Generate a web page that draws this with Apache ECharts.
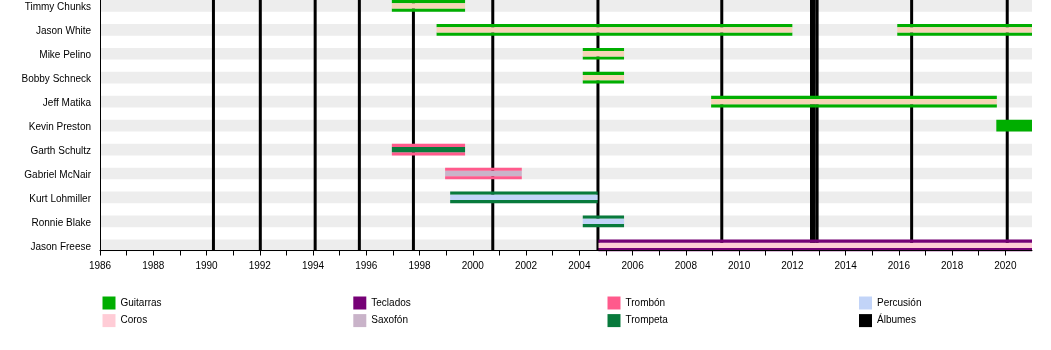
<!DOCTYPE html>
<html><head><meta charset="utf-8">
<script src="https://cdn.jsdelivr.net/npm/echarts@6/dist/echarts.min.js"></script>
<style>html,body{margin:0;padding:0;background:#fff}#c{width:1051px;height:350px}</style>
</head><body><div id="c"></div>
<script>
// ---- data ----
const members = ['Timmy Chunks','Jason White','Mike Pelino','Bobby Schneck','Jeff Matika','Kevin Preston','Garth Schultz','Gabriel McNair','Kurt Lohmiller','Ronnie Blake','Jason Freese'];
const spanMember = [0, 1, 1, 2, 3, 4, 5, 6, 7, 8, 9, 10];
const spanStart  = [1996.96, 1998.64, 2015.94, 2004.13, 2004.13, 2008.95, 2019.66, 1996.96, 1998.96, 1999.15, 2004.13, 2004.72];
const spanEnd    = [1999.71, 2012.00, 2021.00, 2005.68, 2005.68, 2019.68, 2021.00, 1999.71, 2001.84, 2004.69, 2005.68, 2021.00];
const spanMain   = ['Guitarras','Guitarras','Guitarras','Guitarras','Guitarras','Guitarras','Guitarras','Trombón','Trombón','Trompeta','Trompeta','Teclados'];
const spanExtra  = ['Coros','Coros','Coros','Coros','Coros','Coros',null,'Trompeta','Saxofón','Percusión','Percusión','Coros'];
const albumDates = [1990.26, 1992.02, 1994.08, 1995.74, 1997.77, 2000.75, 2004.70, 2009.35, 2012.72, 2012.82, 2012.93, 2016.48, 2020.07];
const instruments = ['Guitarras','Coros','Teclados','Saxofón','Trombón','Trompeta','Percusión'];
const yearLabels = [1986,1988,1990,1992,1994,1996,1998,2000,2002,2004,2006,2008,2010,2012,2014,2016,2018,2020];
const X_MIN = 1986, X_MAX = 2021;

// ---- styles ----
const FONT = '"Liberation Sans", Arial, sans-serif';
const colors = {
  'Guitarras':'#00AE00','Coros':'#FFCCD6','Teclados':'#760076','Saxofón':'#C9B3C9',
  'Trombón':'#FF5A8C','Trompeta':'#087A3C','Percusión':'#C2D4F8','Álbumes':'#000000'
};
const midOverGuitar = '#F6D4B6';
const BAR_H = 11.7, EDGE = 3.2, ROW_PX = 23.95;

const chart = echarts.init(document.getElementById('c'), null, {renderer:'canvas'});

function bandRect(x, y, w, h, fill) {
  return {type:'rect', shape:{x:x, y:y, width:w, height:h}, style:{fill:fill}};
}

function barItem(params, api) {
  const s = api.value(0), e = api.value(1), r = api.value(2), part = api.value(3);
  const a = api.coord([s, r]), b = api.coord([e, r]);
  const top = a[1] - BAR_H / 2, w = b[0] - a[0];
  const color = api.visual('color');
  if (part === 0) return bandRect(a[0], top, w, BAR_H, color);
  if (part === 1) return {type:'group', children:[
    bandRect(a[0], top, w, EDGE, color),
    bandRect(a[0], top + BAR_H - EDGE, w, EDGE, color)
  ]};
  return bandRect(a[0], top + EDGE, w, BAR_H - 2 * EDGE, color);
}

const instSeries = instruments.map(inst => {
  const data = [];
  for (let i = 0; i < spanMember.length; i++) {
    if (spanMain[i] === inst) data.push([spanStart[i], spanEnd[i], spanMember[i], spanExtra[i] ? 1 : 0]);
    if (spanExtra[i] === inst) {
      const item = {value:[spanStart[i], spanEnd[i], spanMember[i], 2]};
      if (spanMain[i] === 'Guitarras') item.itemStyle = {color: midOverGuitar};
      data.push(item);
    }
  }
  return {type:'custom', name:inst, z:5, itemStyle:{color:colors[inst]}, renderItem:barItem, data:data, silent:true};
});

const stripeSeries = {
  type:'custom', silent:true, z:1,
  data: members.map((m, i) => [i]),
  renderItem: (params, api) => {
    const r = api.value(0);
    const a = api.coord([X_MIN, r]), b = api.coord([X_MAX, r]);
    return bandRect(a[0], a[1] - BAR_H / 2, b[0] - a[0], BAR_H, '#EDEDED');
  }
};

const albumSeries = {
  type:'custom', name:'Álbumes', z:3, silent:true,
  itemStyle:{color:colors['Álbumes']},
  data: albumDates.map(d => [d]),
  renderItem: (params, api) => {
    const x = api.coord([api.value(0), 0])[0];
    const cs = params.coordSys;
    return bandRect(x - 1.5, cs.y, 3, cs.height, api.visual('color'));
  }
};

const rowPadTop = 5.85 / ROW_PX;
const gridH = 250.5;

const legendBase = {
  orient:'vertical', top:291.5, itemWidth:13, itemHeight:13, itemGap:4.6, icon:'rect',
  selectedMode:false,
  textStyle:{fontSize:10, color:'#000', fontFamily:FONT}
};

chart.setOption({
  animation:false,
  backgroundColor:'#fff',
  textStyle:{fontFamily:FONT},
  grid:{left:100, right:19, top:0, height:gridH, outerBoundsMode:'none', containLabel:false},
  xAxis:{
    type:'value', min:X_MIN, max:X_MAX, interval:1, z:10,
    axisLine:{show:true, onZero:false, lineStyle:{color:'#000', width:1}},
    axisTick:{show:true, length:5, lineStyle:{color:'#000'}},
    splitLine:{show:false},
    axisLabel:{fontSize:10, color:'#000', fontFamily:FONT, margin:11,
      showMaxLabel:false,
      formatter: v => yearLabels.indexOf(Math.round(v)) >= 0 ? String(Math.round(v)) : ''}
  },
  yAxis:{
    type:'value', inverse:true, min:-rowPadTop, max:-rowPadTop + gridH / ROW_PX, z:10,
    axisLine:{show:true, onZero:false, lineStyle:{color:'#000', width:1}},
    axisTick:{show:false}, splitLine:{show:false},
    axisLabel:{customValues: members.map((m, i) => i), fontSize:10, color:'#000', fontFamily:FONT,
      margin:9, verticalAlign:'top', lineHeight:3.5,
      formatter: v => members[Math.round(v)] || ''}
  },
  legend:[
    Object.assign({}, legendBase, {left:97.5, data:['Guitarras','Coros']}),
    Object.assign({}, legendBase, {left:348.3, data:['Teclados','Saxofón']}),
    Object.assign({}, legendBase, {left:602.5, data:['Trombón','Trompeta']}),
    Object.assign({}, legendBase, {left:854, data:['Percusión','Álbumes']})
  ],
  series:[stripeSeries, albumSeries].concat(instSeries)
});
</script>
</body></html>
